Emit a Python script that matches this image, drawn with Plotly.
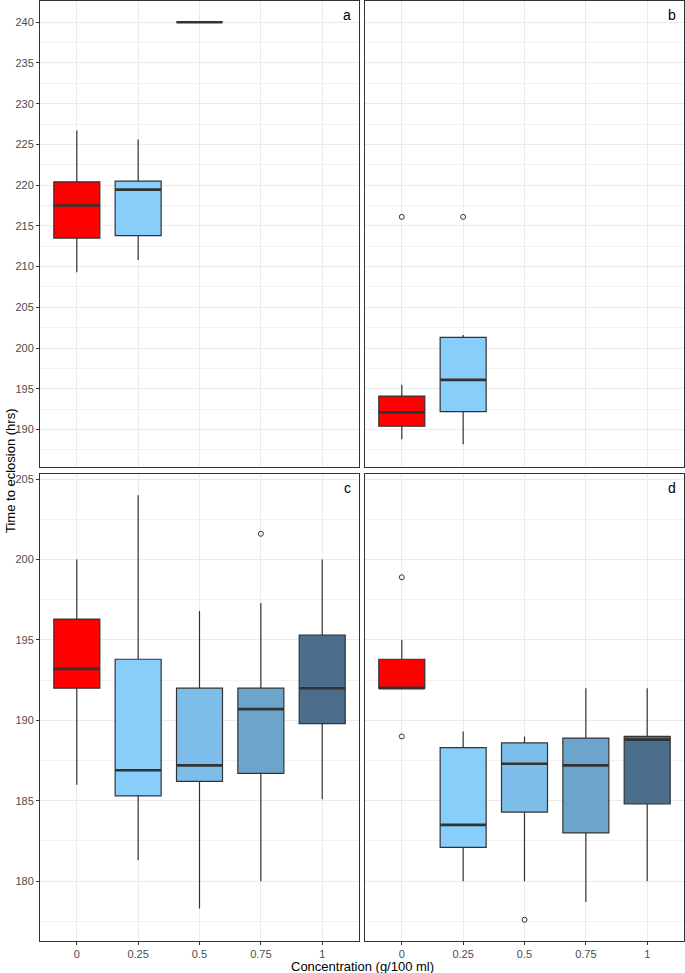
import plotly.graph_objects as go

# ---------------- data ----------------
categories = ["0", "0.25", "0.5", "0.75", "1"]
fill_colors = ["#FF0000", "#87CEFA", "#7DBDEA", "#6CA4CC", "#4A6E8B"]

# panel a
a_cats = ["0", "0.25", "0.5"]
a_lower = [209.3, 210.8, 240.0]
a_q1 = [213.5, 213.8, 240.0]
a_median = [217.5, 219.45, 240.0]
a_q3 = [220.4, 220.5, 240.0]
a_upper = [226.7, 225.6, 240.0]
a_out_x, a_out_y = [], []

# panel b
b_cats = ["0", "0.25"]
b_lower = [188.8, 188.2]
b_q1 = [190.4, 192.2]
b_median = [192.1, 196.1]
b_q3 = [194.1, 201.3]
b_upper = [195.5, 201.6]
b_out_x = ["0", "0.25"]
b_out_y = [216.1, 216.1]

# panel c
c_cats = ["0", "0.25", "0.5", "0.75", "1"]
c_lower = [186.0, 181.3, 178.3, 180.0, 185.1]
c_q1 = [192.0, 185.3, 186.2, 186.7, 189.8]
c_median = [193.2, 186.9, 187.2, 190.7, 192.0]
c_q3 = [196.3, 193.8, 192.0, 192.0, 195.3]
c_upper = [200.0, 204.0, 196.8, 197.3, 200.0]
c_out_x = ["0.75"]
c_out_y = [201.6]

# panel d
d_cats = ["0", "0.25", "0.5", "0.75", "1"]
d_lower = [192.0, 180.0, 180.0, 178.7, 180.0]
d_q1 = [192.0, 182.1, 184.3, 183.0, 184.8]
d_median = [192.0, 183.5, 187.3, 187.2, 188.8]
d_q3 = [193.8, 188.3, 188.6, 188.9, 189.0]
d_upper = [195.0, 189.3, 189.0, 192.0, 192.0]
d_out_x = ["0", "0", "0.5"]
d_out_y = [198.9, 189.0, 177.6]

panel_labels = ["a", "b", "c", "d"]
top_ticks = [190, 195, 200, 205, 210, 215, 220, 225, 230, 235, 240]
bottom_ticks = [180, 185, 190, 195, 200, 205]
x_title = "Concentration (g/100 ml)"
y_title = "Time to eclosion (hrs)"

# ---------------- figure ----------------
FONT = "Liberation Sans, Arial, Helvetica, sans-serif"
EDGE = "#333333"
fig = go.Figure()

panels = [
    ("x", "y", a_cats, a_lower, a_q1, a_median, a_q3, a_upper, a_out_x, a_out_y),
    ("x2", "y2", b_cats, b_lower, b_q1, b_median, b_q3, b_upper, b_out_x, b_out_y),
    ("x3", "y3", c_cats, c_lower, c_q1, c_median, c_q3, c_upper, c_out_x, c_out_y),
    ("x4", "y4", d_cats, d_lower, d_q1, d_median, d_q3, d_upper, d_out_x, d_out_y),
]

for xa, ya, cats, lo, q1, med, q3, up, ox, oy in panels:
    for i, cat in enumerate(cats):
        col = fill_colors[categories.index(cat)]
        fig.add_trace(go.Box(
            x=[cat], q1=[q1[i]], median=[med[i]], q3=[q3[i]],
            lowerfence=[lo[i]], upperfence=[up[i]],
            fillcolor=col, line=dict(color=EDGE, width=1.2),
            whiskerwidth=0, width=0.75, boxpoints=False,
            xaxis=xa, yaxis=ya, showlegend=False, hoverinfo="skip"))
        # thicker median line (ggplot fatten)
        fig.add_trace(go.Box(
            x=[cat], q1=[med[i]], median=[med[i]], q3=[med[i]],
            lowerfence=[med[i]], upperfence=[med[i]],
            fillcolor="rgba(0,0,0,0)", line=dict(color=EDGE, width=2.6),
            whiskerwidth=0, width=0.75, boxpoints=False,
            xaxis=xa, yaxis=ya, showlegend=False, hoverinfo="skip"))
    if ox:
        fig.add_trace(go.Scatter(
            x=ox, y=oy, mode="markers",
            marker=dict(symbol="circle-open", size=5, color=EDGE,
                        line=dict(width=1, color=EDGE)),
            xaxis=xa, yaxis=ya, showlegend=False, hoverinfo="skip"))

W, H = 685, 973
ml, mr, mt, mb = 40, 1, 1, 32
pw, ph = W - ml - mr, H - mt - mb
left_dom = [0, 319 / pw]
right_dom = [325 / pw, 1]
top_dom = [(941 - 467) / ph, 1]
bot_dom = [0, (941 - 474) / ph]

common_x = dict(type="category", categoryorder="array", categoryarray=categories,
                range=[-0.6, 4.6], showgrid=True, gridcolor="#EBEBEB", gridwidth=1,
                showline=True, mirror=True, linecolor=EDGE, linewidth=1,
                zeroline=False, tickfont=dict(family=FONT, size=11, color="#4D4D4D"),
                fixedrange=True)
common_y = dict(showgrid=True, gridcolor="#EBEBEB", gridwidth=1,
                showline=True, mirror=True, linecolor=EDGE, linewidth=1,
                zeroline=False, tickfont=dict(family=FONT, size=11, color="#4D4D4D"),
                minor=dict(dtick=2.5, tick0=0, showgrid=True, gridcolor="#F2F2F2",
                           gridwidth=0.6, ticks=""))

top_range = [185.4, 242.6]
bot_range = [176.28, 205.32]

fig.update_layout(
    width=W, height=H,
    margin=dict(l=ml, r=mr, t=mt, b=mb),
    paper_bgcolor="white", plot_bgcolor="white",
    boxmode="overlay",
    font=dict(family=FONT, color="#000000"),
    xaxis=dict(common_x, domain=left_dom, anchor="y", showticklabels=False, ticks=""),
    xaxis2=dict(common_x, domain=right_dom, anchor="y2", showticklabels=False, ticks=""),
    xaxis3=dict(common_x, domain=left_dom, anchor="y3", ticks="outside", ticklen=3,
                tickcolor=EDGE),
    xaxis4=dict(common_x, domain=right_dom, anchor="y4", ticks="outside", ticklen=3,
                tickcolor=EDGE),
    yaxis=dict(common_y, domain=top_dom, anchor="x", range=top_range,
               tickvals=top_ticks, ticks="outside", ticklen=3, tickcolor=EDGE),
    yaxis2=dict(common_y, domain=top_dom, anchor="x2", range=top_range,
                tickvals=top_ticks, showticklabels=False, ticks=""),
    yaxis3=dict(common_y, domain=bot_dom, anchor="x3", range=bot_range,
                tickvals=bottom_ticks, ticks="outside", ticklen=3, tickcolor=EDGE),
    yaxis4=dict(common_y, domain=bot_dom, anchor="x4", range=bot_range,
                tickvals=bottom_ticks, showticklabels=False, ticks=""),
)

annots = []
for lab, xa, ya in zip(panel_labels, ["x", "x2", "x3", "x4"], ["y", "y2", "y3", "y4"]):
    annots.append(dict(text=lab, xref=f"{xa} domain", yref=f"{ya} domain",
                       x=1, y=1, xanchor="right", yanchor="top", xshift=-6, yshift=-4,
                       showarrow=False, font=dict(family=FONT, size=14, color="#000000")))
annots.append(dict(text=x_title, xref="paper", yref="paper", x=0.5, y=0,
                   xanchor="center", yanchor="top", yshift=-16, showarrow=False,
                   font=dict(family=FONT, size=13, color="#000000")))
annots.append(dict(text=y_title, xref="paper", yref="paper", x=0, y=0.5,
                   xanchor="center", yanchor="middle", xshift=-30, textangle=-90,
                   showarrow=False, font=dict(family=FONT, size=13, color="#000000")))
fig.update_layout(annotations=annots)

fig.write_html("out.html", config={"displayModeBar": False})

# remove the default page margin so the figure sits at the window's corner
with open("out.html", "r", encoding="utf-8") as f:
    html = f.read()
html = html.replace("<head>", "<head><style>html,body{margin:0;padding:0;overflow:hidden;}</style>", 1)
with open("out.html", "w", encoding="utf-8") as f:
    f.write(html)
